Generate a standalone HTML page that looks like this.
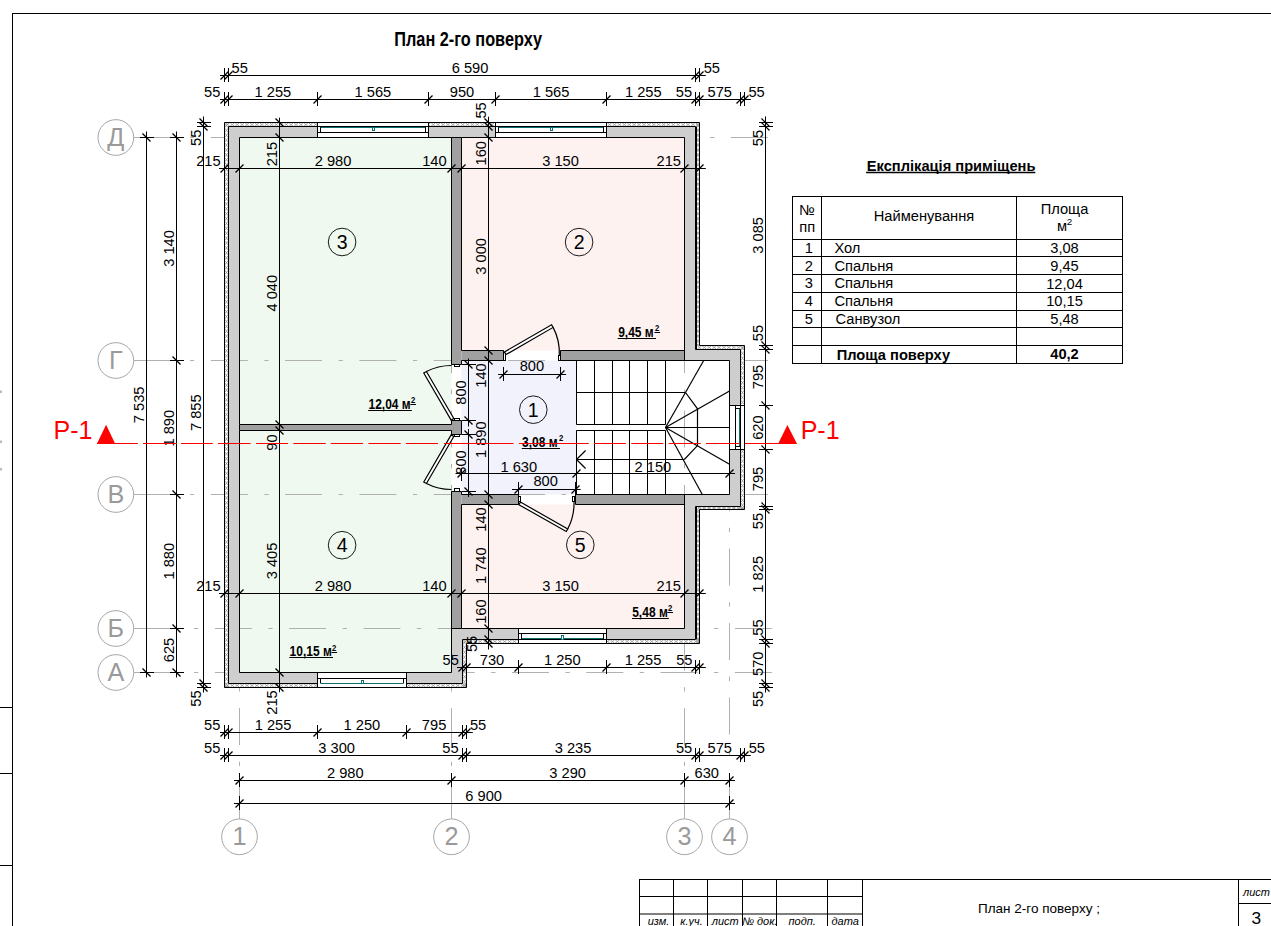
<!DOCTYPE html>
<html><head><meta charset="utf-8"><title>План 2-го поверху</title>
<style>html,body{margin:0;padding:0;background:#fff;overflow:hidden}svg{display:block}text{font-family:"Liberation Sans",sans-serif}</style>
</head><body>
<svg width="1271" height="926" viewBox="0 0 1271 926">
<defs>
<pattern id="ins" width="4.9" height="4.9" patternUnits="userSpaceOnUse"><rect width="4.9" height="4.9" fill="#fff"/><path d="M0 0L4.9 4.9M4.9 0L0 4.9" stroke="#9a9a9a" stroke-width="0.8"/></pattern>
</defs>
<rect width="1271" height="926" fill="#fff"/>
<!-- sheet frame -->
<line x1="12.50" y1="13.00" x2="12.50" y2="926.00" stroke="#000" stroke-width="1" />
<line x1="12.00" y1="13.50" x2="1271.00" y2="13.50" stroke="#000" stroke-width="1" />
<line x1="0.00" y1="707.50" x2="12.50" y2="707.50" stroke="#000" stroke-width="1" />
<line x1="0.00" y1="773.50" x2="12.50" y2="773.50" stroke="#000" stroke-width="1" />
<line x1="0.00" y1="865.50" x2="12.50" y2="865.50" stroke="#000" stroke-width="1" />
<rect x="0" y="390.5" width="2" height="2.5" fill="#b9b9c2"/>
<rect x="0" y="440.5" width="2" height="2.5" fill="#b9b9c2"/>
<rect x="0" y="468" width="2" height="2.5" fill="#b9b9c2"/>
<!-- title block -->
<line x1="639.00" y1="879.50" x2="1271.00" y2="879.50" stroke="#000" stroke-width="1" />
<line x1="639.00" y1="896.50" x2="863.00" y2="896.50" stroke="#000" stroke-width="1" />
<line x1="639.00" y1="914.07" x2="863.00" y2="914.07" stroke="#000" stroke-width="1.05" />
<line x1="639.50" y1="879.00" x2="639.50" y2="926.00" stroke="#000" stroke-width="1" />
<line x1="673.50" y1="879.00" x2="673.50" y2="926.00" stroke="#000" stroke-width="1" />
<line x1="707.50" y1="879.00" x2="707.50" y2="926.00" stroke="#000" stroke-width="1" />
<line x1="742.50" y1="879.00" x2="742.50" y2="926.00" stroke="#000" stroke-width="1" />
<line x1="776.50" y1="879.00" x2="776.50" y2="926.00" stroke="#000" stroke-width="1" />
<line x1="827.50" y1="879.00" x2="827.50" y2="926.00" stroke="#000" stroke-width="1" />
<line x1="862.50" y1="879.00" x2="862.50" y2="926.00" stroke="#000" stroke-width="1" />
<line x1="1238.50" y1="879.00" x2="1238.50" y2="926.00" stroke="#000" stroke-width="1" />
<line x1="1238.50" y1="903.50" x2="1271.00" y2="903.50" stroke="#000" stroke-width="1" />
<text x="658.50" y="925.30" font-size="11" text-anchor="middle" font-style="italic" >изм.</text>
<text x="691.55" y="925.30" font-size="11" text-anchor="middle" font-style="italic" >к.уч.</text>
<text x="725.20" y="925.30" font-size="11" text-anchor="middle" font-style="italic" >лист</text>
<text x="759.70" y="925.30" font-size="11" text-anchor="middle" font-style="italic" >№ док.</text>
<text x="802.25" y="925.30" font-size="11" text-anchor="middle" font-style="italic" >подп.</text>
<text x="845.20" y="925.30" font-size="11" text-anchor="middle" font-style="italic" >дата</text>
<text x="1256.50" y="895.50" font-size="11" text-anchor="middle" font-style="italic" >лист</text>
<text x="1256.30" y="924.00" font-size="17.3" text-anchor="middle" >3</text>
<text x="978.00" y="912.70" font-size="13.5" >План 2-го поверху ;</text>
<text transform="translate(394.3,45.9) scale(0.84,1)" font-size="19.4" font-weight="bold">План 2-го поверху</text>
<!-- building -->
<polygon points="224.5,122.5 699.5,122.5 699.5,345.5 744.5,345.5 744.5,509.5 699.5,509.5 699.5,643.5 466.5,643.5 466.5,687.5 224.5,687.5" fill="#fff" stroke="none" stroke-width="1" />
<polygon points="228.5,126.5 695.5,126.5 695.5,349.5 740.5,349.5 740.5,506.5 695.5,506.5 695.5,639.5 462.5,639.5 462.5,683.5 228.5,683.5" fill="#fff" stroke="none" stroke-width="1" />
<rect x="239.5" y="137.5" width="212.00" height="287.00" fill="#f0f9f0"/>
<rect x="239.5" y="430.5" width="212.00" height="242.00" fill="#f0f9f0"/>
<rect x="461.5" y="137.5" width="223.00" height="213.00" fill="#fef2f0"/>
<rect x="461.5" y="360.5" width="115.00" height="134.00" fill="#f2f2fc"/>
<rect x="461.5" y="504.5" width="223.00" height="124.00" fill="#fef2f0"/>
<!-- axes -->
<path d="M133.8 137.5H182.6M730.9 137.5H767.9M710.1 137.5H714.4M656.6 137.5H693.6M635.8 137.5H640.1M582.3 137.5H619.3M561.5 137.5H565.8M508.0 137.5H545.0M487.2 137.5H491.5M433.7 137.5H470.7M412.9 137.5H417.2M359.4 137.5H396.4M338.6 137.5H342.9M285.1 137.5H322.1M264.3 137.5H268.6M210.8 137.5H247.8M190.0 137.5H194.3" stroke="#a8a8a8" stroke-width="0.9" fill="none"/>
<path d="M133.8 360.5H182.6M730.9 360.5H767.9M710.1 360.5H714.4M656.6 360.5H693.6M635.8 360.5H640.1M582.3 360.5H619.3M561.5 360.5H565.8M508.0 360.5H545.0M487.2 360.5H491.5M433.7 360.5H470.7M412.9 360.5H417.2M359.4 360.5H396.4M338.6 360.5H342.9M285.1 360.5H322.1M264.3 360.5H268.6M210.8 360.5H247.8M190.0 360.5H194.3" stroke="#a8a8a8" stroke-width="0.9" fill="none"/>
<path d="M133.8 494.5H182.6M730.9 494.5H767.9M710.1 494.5H714.4M656.6 494.5H693.6M635.8 494.5H640.1M582.3 494.5H619.3M561.5 494.5H565.8M508.0 494.5H545.0M487.2 494.5H491.5M433.7 494.5H470.7M412.9 494.5H417.2M359.4 494.5H396.4M338.6 494.5H342.9M285.1 494.5H322.1M264.3 494.5H268.6M210.8 494.5H247.8M190.0 494.5H194.3" stroke="#a8a8a8" stroke-width="0.9" fill="none"/>
<path d="M133.8 628.5H182.6M734.9 628.5H771.9M714.1 628.5H718.4M660.6 628.5H697.6M639.8 628.5H644.1M586.3 628.5H623.3M565.5 628.5H569.8M512.0 628.5H549.0M491.2 628.5H495.5M437.7 628.5H474.7M416.9 628.5H421.2M363.4 628.5H400.4M342.6 628.5H346.9M289.1 628.5H326.1M268.3 628.5H272.6M214.8 628.5H251.8M194.0 628.5H198.3" stroke="#a8a8a8" stroke-width="0.9" fill="none"/>
<path d="M133.8 672.5H182.6M734.9 672.5H771.9M714.1 672.5H718.4M660.6 672.5H697.6M639.8 672.5H644.1M586.3 672.5H623.3M565.5 672.5H569.8M512.0 672.5H549.0M491.2 672.5H495.5M437.7 672.5H474.7M416.9 672.5H421.2M363.4 672.5H400.4M342.6 672.5H346.9M289.1 672.5H326.1M268.3 672.5H272.6M214.8 672.5H251.8M194.0 672.5H198.3" stroke="#a8a8a8" stroke-width="0.9" fill="none"/>
<path d="M239.5 777.5V818.9M239.5 688.0V691.6M239.5 708.1V745.1M239.5 761.6V766.0" stroke="#a8a8a8" stroke-width="0.9" fill="none"/>
<path d="M451.5 777.5V818.9M451.5 360.5V373.1M451.5 389.6V394.0M451.5 410.5V447.5M451.5 464.0V468.4M451.5 484.9V521.9M451.5 538.4V542.8M451.5 559.3V596.3M451.5 612.8V617.2M451.5 633.7V670.7M451.5 687.2V691.6M451.5 708.1V745.1M451.5 761.6V766.0" stroke="#a8a8a8" stroke-width="0.9" fill="none"/>
<path d="M684.5 777.5V818.9M684.5 360.5V373.1M684.5 389.6V394.0M684.5 410.5V447.5M684.5 464.0V468.4M684.5 484.9V521.9M684.5 538.4V542.8M684.5 559.3V596.3M684.5 612.8V617.2M684.5 633.7V670.7M684.5 687.2V691.6M684.5 708.1V745.1M684.5 761.6V766.0" stroke="#a8a8a8" stroke-width="0.9" fill="none"/>
<path d="M729.5 773.4V818.9M729.5 510.0V511.3M729.5 527.8V532.2M729.5 548.7V585.7M729.5 602.2V606.6M729.5 623.1V660.1M729.5 676.6V681.0M729.5 697.5V734.5M729.5 751.0V755.4" stroke="#a8a8a8" stroke-width="0.9" fill="none"/>
<path d="M224.5 122.5 L699.5 122.5 L699.5 345.5 L744.5 345.5 L744.5 509.5 L699.5 509.5 L699.5 643.5 L466.5 643.5 L466.5 687.5 L224.5 687.5ZM228.5 126.5 L695.5 126.5 L695.5 349.5 L740.5 349.5 L740.5 506.5 L695.5 506.5 L695.5 639.5 L462.5 639.5 L462.5 683.5 L228.5 683.5Z" fill="#fff" fill-rule="evenodd"/>
<path d="M225.0 126.5L229.9 122.5L234.8 126.5L239.7 122.5L244.6 126.5L249.5 122.5L254.4 126.5L259.3 122.5L264.2 126.5L269.1 122.5L274.0 126.5L278.9 122.5L283.8 126.5L288.7 122.5L293.6 126.5L298.5 122.5L303.4 126.5L308.3 122.5L313.2 126.5L318.1 122.5L323.0 126.5L327.9 122.5L332.8 126.5L337.7 122.5L342.6 126.5L347.5 122.5L352.4 126.5L357.3 122.5L362.2 126.5L367.1 122.5L372.0 126.5L376.9 122.5L381.8 126.5L386.7 122.5L391.6 126.5L396.5 122.5L401.4 126.5L406.3 122.5L411.2 126.5L416.1 122.5L421.0 126.5L425.9 122.5L430.8 126.5L435.7 122.5L440.6 126.5L445.5 122.5L450.4 126.5L455.3 122.5L460.2 126.5L465.1 122.5L470.0 126.5L474.9 122.5L479.8 126.5L484.7 122.5L489.6 126.5L494.5 122.5L499.4 126.5L504.3 122.5L509.2 126.5L514.1 122.5L519.0 126.5L523.9 122.5L528.8 126.5L533.7 122.5L538.6 126.5L543.5 122.5L548.4 126.5L553.3 122.5L558.2 126.5L563.1 122.5L568.0 126.5L572.9 122.5L577.8 126.5L582.7 122.5L587.6 126.5L592.5 122.5L597.4 126.5L602.3 122.5L607.2 126.5L612.1 122.5L617.0 126.5L621.9 122.5L626.8 126.5L631.7 122.5L636.6 126.5L641.5 122.5L646.4 126.5L651.3 122.5L656.2 126.5L661.1 122.5L666.0 126.5L670.9 122.5L675.8 126.5L680.7 122.5L685.6 126.5L690.5 122.5L695.4 126.5L699.0 122.5M225.0 122.5L229.9 126.5L234.8 122.5L239.7 126.5L244.6 122.5L249.5 126.5L254.4 122.5L259.3 126.5L264.2 122.5L269.1 126.5L274.0 122.5L278.9 126.5L283.8 122.5L288.7 126.5L293.6 122.5L298.5 126.5L303.4 122.5L308.3 126.5L313.2 122.5L318.1 126.5L323.0 122.5L327.9 126.5L332.8 122.5L337.7 126.5L342.6 122.5L347.5 126.5L352.4 122.5L357.3 126.5L362.2 122.5L367.1 126.5L372.0 122.5L376.9 126.5L381.8 122.5L386.7 126.5L391.6 122.5L396.5 126.5L401.4 122.5L406.3 126.5L411.2 122.5L416.1 126.5L421.0 122.5L425.9 126.5L430.8 122.5L435.7 126.5L440.6 122.5L445.5 126.5L450.4 122.5L455.3 126.5L460.2 122.5L465.1 126.5L470.0 122.5L474.9 126.5L479.8 122.5L484.7 126.5L489.6 122.5L494.5 126.5L499.4 122.5L504.3 126.5L509.2 122.5L514.1 126.5L519.0 122.5L523.9 126.5L528.8 122.5L533.7 126.5L538.6 122.5L543.5 126.5L548.4 122.5L553.3 126.5L558.2 122.5L563.1 126.5L568.0 122.5L572.9 126.5L577.8 122.5L582.7 126.5L587.6 122.5L592.5 126.5L597.4 122.5L602.3 126.5L607.2 122.5L612.1 126.5L617.0 122.5L621.9 126.5L626.8 122.5L631.7 126.5L636.6 122.5L641.5 126.5L646.4 122.5L651.3 126.5L656.2 122.5L661.1 126.5L666.0 122.5L670.9 126.5L675.8 122.5L680.7 126.5L685.6 122.5L690.5 126.5L695.4 122.5L699.0 126.5M228.5 123.0L224.5 127.9L228.5 132.8L224.5 137.7L228.5 142.6L224.5 147.5L228.5 152.4L224.5 157.3L228.5 162.2L224.5 167.1L228.5 172.0L224.5 176.9L228.5 181.8L224.5 186.7L228.5 191.6L224.5 196.5L228.5 201.4L224.5 206.3L228.5 211.2L224.5 216.1L228.5 221.0L224.5 225.9L228.5 230.8L224.5 235.7L228.5 240.6L224.5 245.5L228.5 250.4L224.5 255.3L228.5 260.2L224.5 265.1L228.5 270.0L224.5 274.9L228.5 279.8L224.5 284.7L228.5 289.6L224.5 294.5L228.5 299.4L224.5 304.3L228.5 309.2L224.5 314.1L228.5 319.0L224.5 323.9L228.5 328.8L224.5 333.7L228.5 338.6L224.5 343.5L228.5 348.4L224.5 353.3L228.5 358.2L224.5 363.1L228.5 368.0L224.5 372.9L228.5 377.8L224.5 382.7L228.5 387.6L224.5 392.5L228.5 397.4L224.5 402.3L228.5 407.2L224.5 412.1L228.5 417.0L224.5 421.9L228.5 426.8L224.5 431.7L228.5 436.6L224.5 441.5L228.5 446.4L224.5 451.3L228.5 456.2L224.5 461.1L228.5 466.0L224.5 470.9L228.5 475.8L224.5 480.7L228.5 485.6L224.5 490.5L228.5 495.4L224.5 500.3L228.5 505.2L224.5 510.1L228.5 515.0L224.5 519.9L228.5 524.8L224.5 529.7L228.5 534.6L224.5 539.5L228.5 544.4L224.5 549.3L228.5 554.2L224.5 559.1L228.5 564.0L224.5 568.9L228.5 573.8L224.5 578.7L228.5 583.6L224.5 588.5L228.5 593.4L224.5 598.3L228.5 603.2L224.5 608.1L228.5 613.0L224.5 617.9L228.5 622.8L224.5 627.7L228.5 632.6L224.5 637.5L228.5 642.4L224.5 647.3L228.5 652.2L224.5 657.1L228.5 662.0L224.5 666.9L228.5 671.8L224.5 676.7L228.5 681.6L224.5 686.5L228.5 687.0M224.5 123.0L228.5 127.9L224.5 132.8L228.5 137.7L224.5 142.6L228.5 147.5L224.5 152.4L228.5 157.3L224.5 162.2L228.5 167.1L224.5 172.0L228.5 176.9L224.5 181.8L228.5 186.7L224.5 191.6L228.5 196.5L224.5 201.4L228.5 206.3L224.5 211.2L228.5 216.1L224.5 221.0L228.5 225.9L224.5 230.8L228.5 235.7L224.5 240.6L228.5 245.5L224.5 250.4L228.5 255.3L224.5 260.2L228.5 265.1L224.5 270.0L228.5 274.9L224.5 279.8L228.5 284.7L224.5 289.6L228.5 294.5L224.5 299.4L228.5 304.3L224.5 309.2L228.5 314.1L224.5 319.0L228.5 323.9L224.5 328.8L228.5 333.7L224.5 338.6L228.5 343.5L224.5 348.4L228.5 353.3L224.5 358.2L228.5 363.1L224.5 368.0L228.5 372.9L224.5 377.8L228.5 382.7L224.5 387.6L228.5 392.5L224.5 397.4L228.5 402.3L224.5 407.2L228.5 412.1L224.5 417.0L228.5 421.9L224.5 426.8L228.5 431.7L224.5 436.6L228.5 441.5L224.5 446.4L228.5 451.3L224.5 456.2L228.5 461.1L224.5 466.0L228.5 470.9L224.5 475.8L228.5 480.7L224.5 485.6L228.5 490.5L224.5 495.4L228.5 500.3L224.5 505.2L228.5 510.1L224.5 515.0L228.5 519.9L224.5 524.8L228.5 529.7L224.5 534.6L228.5 539.5L224.5 544.4L228.5 549.3L224.5 554.2L228.5 559.1L224.5 564.0L228.5 568.9L224.5 573.8L228.5 578.7L224.5 583.6L228.5 588.5L224.5 593.4L228.5 598.3L224.5 603.2L228.5 608.1L224.5 613.0L228.5 617.9L224.5 622.8L228.5 627.7L224.5 632.6L228.5 637.5L224.5 642.4L228.5 647.3L224.5 652.2L228.5 657.1L224.5 662.0L228.5 666.9L224.5 671.8L228.5 676.7L224.5 681.6L228.5 686.5L224.5 687.0M225.0 687.5L229.9 683.5L234.8 687.5L239.7 683.5L244.6 687.5L249.5 683.5L254.4 687.5L259.3 683.5L264.2 687.5L269.1 683.5L274.0 687.5L278.9 683.5L283.8 687.5L288.7 683.5L293.6 687.5L298.5 683.5L303.4 687.5L308.3 683.5L313.2 687.5L318.1 683.5L323.0 687.5L327.9 683.5L332.8 687.5L337.7 683.5L342.6 687.5L347.5 683.5L352.4 687.5L357.3 683.5L362.2 687.5L367.1 683.5L372.0 687.5L376.9 683.5L381.8 687.5L386.7 683.5L391.6 687.5L396.5 683.5L401.4 687.5L406.3 683.5L411.2 687.5L416.1 683.5L421.0 687.5L425.9 683.5L430.8 687.5L435.7 683.5L440.6 687.5L445.5 683.5L450.4 687.5L455.3 683.5L460.2 687.5L465.1 683.5L466.0 687.5M225.0 683.5L229.9 687.5L234.8 683.5L239.7 687.5L244.6 683.5L249.5 687.5L254.4 683.5L259.3 687.5L264.2 683.5L269.1 687.5L274.0 683.5L278.9 687.5L283.8 683.5L288.7 687.5L293.6 683.5L298.5 687.5L303.4 683.5L308.3 687.5L313.2 683.5L318.1 687.5L323.0 683.5L327.9 687.5L332.8 683.5L337.7 687.5L342.6 683.5L347.5 687.5L352.4 683.5L357.3 687.5L362.2 683.5L367.1 687.5L372.0 683.5L376.9 687.5L381.8 683.5L386.7 687.5L391.6 683.5L396.5 687.5L401.4 683.5L406.3 687.5L411.2 683.5L416.1 687.5L421.0 683.5L425.9 687.5L430.8 683.5L435.7 687.5L440.6 683.5L445.5 687.5L450.4 683.5L455.3 687.5L460.2 683.5L465.1 687.5L466.0 683.5M466.5 640.0L462.5 644.9L466.5 649.8L462.5 654.7L466.5 659.6L462.5 664.5L466.5 669.4L462.5 674.3L466.5 679.2L462.5 684.1L466.5 687.0M462.5 640.0L466.5 644.9L462.5 649.8L466.5 654.7L462.5 659.6L466.5 664.5L462.5 669.4L466.5 674.3L462.5 679.2L466.5 684.1L462.5 687.0M463.0 643.5L467.9 639.5L472.8 643.5L477.7 639.5L482.6 643.5L487.5 639.5L492.4 643.5L497.3 639.5L502.2 643.5L507.1 639.5L512.0 643.5L516.9 639.5L521.8 643.5L526.7 639.5L531.6 643.5L536.5 639.5L541.4 643.5L546.3 639.5L551.2 643.5L556.1 639.5L561.0 643.5L565.9 639.5L570.8 643.5L575.7 639.5L580.6 643.5L585.5 639.5L590.4 643.5L595.3 639.5L600.2 643.5L605.1 639.5L610.0 643.5L614.9 639.5L619.8 643.5L624.7 639.5L629.6 643.5L634.5 639.5L639.4 643.5L644.3 639.5L649.2 643.5L654.1 639.5L659.0 643.5L663.9 639.5L668.8 643.5L673.7 639.5L678.6 643.5L683.5 639.5L688.4 643.5L693.3 639.5L698.2 643.5L699.0 639.5M463.0 639.5L467.9 643.5L472.8 639.5L477.7 643.5L482.6 639.5L487.5 643.5L492.4 639.5L497.3 643.5L502.2 639.5L507.1 643.5L512.0 639.5L516.9 643.5L521.8 639.5L526.7 643.5L531.6 639.5L536.5 643.5L541.4 639.5L546.3 643.5L551.2 639.5L556.1 643.5L561.0 639.5L565.9 643.5L570.8 639.5L575.7 643.5L580.6 639.5L585.5 643.5L590.4 639.5L595.3 643.5L600.2 639.5L605.1 643.5L610.0 639.5L614.9 643.5L619.8 639.5L624.7 643.5L629.6 639.5L634.5 643.5L639.4 639.5L644.3 643.5L649.2 639.5L654.1 643.5L659.0 639.5L663.9 643.5L668.8 639.5L673.7 643.5L678.6 639.5L683.5 643.5L688.4 639.5L693.3 643.5L698.2 639.5L699.0 643.5M699.6 123.0L696.4 127.9L699.6 132.8L696.4 137.7L699.6 142.6L696.4 147.5L699.6 152.4L696.4 157.3L699.6 162.2L696.4 167.1L699.6 172.0L696.4 176.9L699.6 181.8L696.4 186.7L699.6 191.6L696.4 196.5L699.6 201.4L696.4 206.3L699.6 211.2L696.4 216.1L699.6 221.0L696.4 225.9L699.6 230.8L696.4 235.7L699.6 240.6L696.4 245.5L699.6 250.4L696.4 255.3L699.6 260.2L696.4 265.1L699.6 270.0L696.4 274.9L699.6 279.8L696.4 284.7L699.6 289.6L696.4 294.5L699.6 299.4L696.4 304.3L699.6 309.2L696.4 314.1L699.6 319.0L696.4 323.9L699.6 328.8L696.4 333.7L699.6 338.6L696.4 343.5L699.6 346.0M696.4 123.0L699.6 127.9L696.4 132.8L699.6 137.7L696.4 142.6L699.6 147.5L696.4 152.4L699.6 157.3L696.4 162.2L699.6 167.1L696.4 172.0L699.6 176.9L696.4 181.8L699.6 186.7L696.4 191.6L699.6 196.5L696.4 201.4L699.6 206.3L696.4 211.2L699.6 216.1L696.4 221.0L699.6 225.9L696.4 230.8L699.6 235.7L696.4 240.6L699.6 245.5L696.4 250.4L699.6 255.3L696.4 260.2L699.6 265.1L696.4 270.0L699.6 274.9L696.4 279.8L699.6 284.7L696.4 289.6L699.6 294.5L696.4 299.4L699.6 304.3L696.4 309.2L699.6 314.1L696.4 319.0L699.6 323.9L696.4 328.8L699.6 333.7L696.4 338.6L699.6 343.5L696.4 346.0M699.6 509.0L696.4 513.9L699.6 518.8L696.4 523.7L699.6 528.6L696.4 533.5L699.6 538.4L696.4 543.3L699.6 548.2L696.4 553.1L699.6 558.0L696.4 562.9L699.6 567.8L696.4 572.7L699.6 577.6L696.4 582.5L699.6 587.4L696.4 592.3L699.6 597.2L696.4 602.1L699.6 607.0L696.4 611.9L699.6 616.8L696.4 621.7L699.6 626.6L696.4 631.5L699.6 636.4L696.4 641.3L699.6 643.0M696.4 509.0L699.6 513.9L696.4 518.8L699.6 523.7L696.4 528.6L699.6 533.5L696.4 538.4L699.6 543.3L696.4 548.2L699.6 553.1L696.4 558.0L699.6 562.9L696.4 567.8L699.6 572.7L696.4 577.6L699.6 582.5L696.4 587.4L699.6 592.3L696.4 597.2L699.6 602.1L696.4 607.0L699.6 611.9L696.4 616.8L699.6 621.7L696.4 626.6L699.6 631.5L696.4 636.4L699.6 641.3L696.4 643.0M697.0 349.5L701.9 345.5L706.8 349.5L711.7 345.5L716.6 349.5L721.5 345.5L726.4 349.5L731.3 345.5L736.2 349.5L741.1 345.5L744.0 349.5M697.0 345.5L701.9 349.5L706.8 345.5L711.7 349.5L716.6 345.5L721.5 349.5L726.4 345.5L731.3 349.5L736.2 345.5L741.1 349.5L744.0 345.5M744.5 346.0L740.5 350.9L744.5 355.8L740.5 360.7L744.5 365.6L740.5 370.5L744.5 375.4L740.5 380.3L744.5 385.2L740.5 390.1L744.5 395.0L740.5 399.9L744.5 404.8L740.5 409.7L744.5 414.6L740.5 419.5L744.5 424.4L740.5 429.3L744.5 434.2L740.5 439.1L744.5 444.0L740.5 448.9L744.5 453.8L740.5 458.7L744.5 463.6L740.5 468.5L744.5 473.4L740.5 478.3L744.5 483.2L740.5 488.1L744.5 493.0L740.5 497.9L744.5 502.8L740.5 507.7L744.5 509.0M740.5 346.0L744.5 350.9L740.5 355.8L744.5 360.7L740.5 365.6L744.5 370.5L740.5 375.4L744.5 380.3L740.5 385.2L744.5 390.1L740.5 395.0L744.5 399.9L740.5 404.8L744.5 409.7L740.5 414.6L744.5 419.5L740.5 424.4L744.5 429.3L740.5 434.2L744.5 439.1L740.5 444.0L744.5 448.9L740.5 453.8L744.5 458.7L740.5 463.6L744.5 468.5L740.5 473.4L744.5 478.3L740.5 483.2L744.5 488.1L740.5 493.0L744.5 497.9L740.5 502.8L744.5 507.7L740.5 509.0M697.0 509.6L701.9 506.4L706.8 509.6L711.7 506.4L716.6 509.6L721.5 506.4L726.4 509.6L731.3 506.4L736.2 509.6L741.1 506.4L744.0 509.6M697.0 506.4L701.9 509.6L706.8 506.4L711.7 509.6L716.6 506.4L721.5 509.6L726.4 506.4L731.3 509.6L736.2 506.4L741.1 509.6L744.0 506.4" fill="none" stroke="#8e8e8e" stroke-width="0.8"/>
<polygon points="224.5,122.5 699.5,122.5 699.5,345.5 744.5,345.5 744.5,509.5 699.5,509.5 699.5,643.5 466.5,643.5 466.5,687.5 224.5,687.5" fill="none" stroke="#000" stroke-width="1" />
<path d="M228.5 126.5 L695.5 126.5 L695.5 349.5 L740.5 349.5 L740.5 506.5 L695.5 506.5 L695.5 639.5 L462.5 639.5 L462.5 683.5 L228.5 683.5ZM239.5 137.5H451.5V672.5H239.5ZM451.5 137.5H684.5V628.5H451.5ZM684.5 360.5H729.5V494.5H684.5Z" fill="#cecece" fill-rule="evenodd" stroke="none"/>
<polygon points="228.5,126.5 695.5,126.5 695.5,349.5 740.5,349.5 740.5,506.5 695.5,506.5 695.5,639.5 462.5,639.5 462.5,683.5 228.5,683.5" fill="none" stroke="#000" stroke-width="1" />
<line x1="696.50" y1="126.50" x2="696.50" y2="349.50" stroke="#000" stroke-width="1" />
<line x1="696.50" y1="506.50" x2="696.50" y2="639.50" stroke="#000" stroke-width="1" />
<rect x="239.5" y="424.5" width="212.00" height="6.00" fill="#a0a0a0"/>
<rect x="451.5" y="137.5" width="10.00" height="227.00" fill="#a0a0a0"/>
<rect x="451.5" y="420.5" width="10.00" height="14.00" fill="#a0a0a0"/>
<rect x="451.5" y="491.5" width="10.00" height="137.00" fill="#a0a0a0"/>
<rect x="461.5" y="350.5" width="42.00" height="10.00" fill="#a0a0a0"/>
<rect x="560.5" y="350.5" width="124.00" height="10.00" fill="#a0a0a0"/>
<rect x="461.5" y="494.5" width="57.00" height="10.00" fill="#a0a0a0"/>
<rect x="575.5" y="494.5" width="109.00" height="10.00" fill="#a0a0a0"/>
<!-- outlines -->
<line x1="239.50" y1="137.50" x2="451.50" y2="137.50" stroke="#000" stroke-width="1" />
<line x1="239.50" y1="137.50" x2="239.50" y2="424.50" stroke="#000" stroke-width="1" />
<line x1="239.50" y1="424.50" x2="451.50" y2="424.50" stroke="#000" stroke-width="1" />
<line x1="451.50" y1="137.50" x2="451.50" y2="364.50" stroke="#000" stroke-width="1" />
<line x1="451.50" y1="420.50" x2="451.50" y2="424.50" stroke="#000" stroke-width="1" />
<line x1="239.50" y1="430.50" x2="451.50" y2="430.50" stroke="#000" stroke-width="1" />
<line x1="239.50" y1="430.50" x2="239.50" y2="672.50" stroke="#000" stroke-width="1" />
<line x1="239.50" y1="672.50" x2="451.50" y2="672.50" stroke="#000" stroke-width="1" />
<line x1="451.50" y1="430.50" x2="451.50" y2="434.50" stroke="#000" stroke-width="1" />
<line x1="451.50" y1="491.50" x2="451.50" y2="672.50" stroke="#000" stroke-width="1" />
<line x1="461.50" y1="137.50" x2="684.50" y2="137.50" stroke="#000" stroke-width="1" />
<line x1="461.50" y1="137.50" x2="461.50" y2="350.50" stroke="#000" stroke-width="1" />
<line x1="684.50" y1="137.50" x2="684.50" y2="360.50" stroke="#000" stroke-width="1" />
<line x1="461.50" y1="350.50" x2="503.50" y2="350.50" stroke="#000" stroke-width="1" />
<line x1="560.50" y1="350.50" x2="684.50" y2="350.50" stroke="#000" stroke-width="1" />
<line x1="461.50" y1="360.50" x2="503.50" y2="360.50" stroke="#000" stroke-width="1" />
<line x1="560.50" y1="360.50" x2="729.50" y2="360.50" stroke="#000" stroke-width="1" />
<line x1="461.50" y1="494.50" x2="518.50" y2="494.50" stroke="#000" stroke-width="1" />
<line x1="575.50" y1="494.50" x2="729.50" y2="494.50" stroke="#000" stroke-width="1" />
<line x1="729.50" y1="360.50" x2="729.50" y2="494.50" stroke="#000" stroke-width="1" />
<line x1="461.50" y1="360.50" x2="461.50" y2="364.50" stroke="#000" stroke-width="1" />
<line x1="461.50" y1="420.50" x2="461.50" y2="434.50" stroke="#000" stroke-width="1" />
<line x1="461.50" y1="491.50" x2="461.50" y2="494.50" stroke="#000" stroke-width="1" />
<line x1="461.50" y1="504.50" x2="518.50" y2="504.50" stroke="#000" stroke-width="1" />
<line x1="575.50" y1="504.50" x2="684.50" y2="504.50" stroke="#000" stroke-width="1" />
<line x1="461.50" y1="504.50" x2="461.50" y2="628.50" stroke="#000" stroke-width="1" />
<line x1="684.50" y1="494.50" x2="684.50" y2="628.50" stroke="#000" stroke-width="1" />
<line x1="461.50" y1="628.50" x2="684.50" y2="628.50" stroke="#000" stroke-width="1" />
<line x1="503.50" y1="350.50" x2="503.50" y2="360.50" stroke="#000" stroke-width="1" />
<line x1="560.50" y1="350.50" x2="560.50" y2="360.50" stroke="#000" stroke-width="1" />
<line x1="518.50" y1="494.50" x2="518.50" y2="504.50" stroke="#000" stroke-width="1" />
<line x1="575.50" y1="494.50" x2="575.50" y2="504.50" stroke="#000" stroke-width="1" />
<line x1="451.50" y1="364.50" x2="461.50" y2="364.50" stroke="#000" stroke-width="1" />
<line x1="451.50" y1="420.50" x2="461.50" y2="420.50" stroke="#000" stroke-width="1" />
<line x1="451.50" y1="434.50" x2="461.50" y2="434.50" stroke="#000" stroke-width="1" />
<line x1="451.50" y1="491.50" x2="461.50" y2="491.50" stroke="#000" stroke-width="1" />
<line x1="451.50" y1="137.50" x2="461.50" y2="137.50" stroke="#000" stroke-width="1" />
<line x1="451.50" y1="628.50" x2="461.50" y2="628.50" stroke="#000" stroke-width="1" />
<line x1="239.50" y1="424.50" x2="239.50" y2="430.50" stroke="#000" stroke-width="1" />
<!-- windows -->
<rect x="317.5" y="122.5" width="111.0" height="15.0" fill="#fff" stroke="#000" stroke-width="1"/>
<line x1="317.50" y1="126.50" x2="428.50" y2="126.50" stroke="#000" stroke-width="1" />
<line x1="317.50" y1="132.50" x2="428.50" y2="132.50" stroke="#000" stroke-width="1" />
<line x1="320.50" y1="126.50" x2="320.50" y2="132.50" stroke="#000" stroke-width="1" />
<line x1="425.50" y1="126.50" x2="425.50" y2="132.50" stroke="#000" stroke-width="1" />
<line x1="321.00" y1="127.50" x2="425.00" y2="127.50" stroke="#0b7070" stroke-width="1" />
<rect x="372.5" y="127.5" width="2" height="3" fill="#fff" stroke="#0b7070" stroke-width="1"/>
<rect x="495.5" y="122.5" width="111.0" height="15.0" fill="#fff" stroke="#000" stroke-width="1"/>
<line x1="495.50" y1="126.50" x2="606.50" y2="126.50" stroke="#000" stroke-width="1" />
<line x1="495.50" y1="132.50" x2="606.50" y2="132.50" stroke="#000" stroke-width="1" />
<line x1="498.50" y1="126.50" x2="498.50" y2="132.50" stroke="#000" stroke-width="1" />
<line x1="603.50" y1="126.50" x2="603.50" y2="132.50" stroke="#000" stroke-width="1" />
<line x1="499.00" y1="127.50" x2="603.00" y2="127.50" stroke="#0b7070" stroke-width="1" />
<rect x="550.5" y="127.5" width="2" height="3" fill="#fff" stroke="#0b7070" stroke-width="1"/>
<rect x="317.5" y="672.5" width="89.0" height="15.0" fill="#fff" stroke="#000" stroke-width="1"/>
<line x1="317.50" y1="678.50" x2="406.50" y2="678.50" stroke="#000" stroke-width="1" />
<line x1="320.50" y1="678.50" x2="320.50" y2="683.50" stroke="#000" stroke-width="1" />
<line x1="403.50" y1="678.50" x2="403.50" y2="683.50" stroke="#000" stroke-width="1" />
<line x1="321.00" y1="683.50" x2="403.00" y2="683.50" stroke="#0b7070" stroke-width="1" />
<rect x="361.5" y="680.5" width="2" height="3" fill="#fff" stroke="#0b7070" stroke-width="1"/>
<rect x="518.5" y="628.5" width="88.0" height="15.0" fill="#fff" stroke="#000" stroke-width="1"/>
<line x1="518.50" y1="639.50" x2="606.50" y2="639.50" stroke="#000" stroke-width="1" />
<line x1="518.50" y1="633.50" x2="606.50" y2="633.50" stroke="#000" stroke-width="1" />
<line x1="521.50" y1="633.50" x2="521.50" y2="639.50" stroke="#000" stroke-width="1" />
<line x1="603.50" y1="633.50" x2="603.50" y2="639.50" stroke="#000" stroke-width="1" />
<line x1="522.00" y1="638.50" x2="603.00" y2="638.50" stroke="#0b7070" stroke-width="1" />
<rect x="561.5" y="635.5" width="2" height="4" fill="#fff" stroke="#0b7070" stroke-width="1"/>
<rect x="729.5" y="405.5" width="15" height="44.0" fill="#fff" stroke="#000" stroke-width="1"/>
<line x1="740.50" y1="405.50" x2="740.50" y2="449.50" stroke="#000" stroke-width="1" />
<line x1="735.50" y1="405.50" x2="735.50" y2="449.50" stroke="#000" stroke-width="1" />
<line x1="735.50" y1="408.50" x2="740.50" y2="408.50" stroke="#000" stroke-width="1" />
<line x1="735.50" y1="446.50" x2="740.50" y2="446.50" stroke="#000" stroke-width="1" />
<line x1="739.50" y1="409.00" x2="739.50" y2="446.00" stroke="#0b7070" stroke-width="1" />
<!-- doors -->
<rect x="503.50" y="352.50" width="2.00" height="8.00" fill="#fff" stroke="#000" stroke-width="1"/>
<rect x="558.50" y="355.50" width="2.00" height="5.00" fill="#fff" stroke="#000" stroke-width="1"/>
<polygon points="506.00,354.60 553.11,327.40 551.56,324.72 504.45,351.92" fill="#fff" stroke="#000" stroke-width="1.2"/>
<path d="M553.11 327.40A54.50 54.50 0 0 1 559.30 355.00" fill="none" stroke="#000" stroke-width="1.2"/>
<rect x="518.50" y="496.50" width="2.00" height="5.00" fill="#fff" stroke="#000" stroke-width="1"/>
<rect x="572.50" y="496.50" width="2.00" height="5.00" fill="#fff" stroke="#000" stroke-width="1"/>
<polygon points="520.40,502.10 567.75,528.89 566.27,531.50 518.92,504.71" fill="#fff" stroke="#000" stroke-width="1.2"/>
<path d="M567.75 528.89A54.50 54.50 0 0 0 574.00 502.00" fill="none" stroke="#000" stroke-width="1.2"/>
<rect x="454.50" y="364.50" width="5.00" height="2.00" fill="#fff" stroke="#000" stroke-width="1"/>
<rect x="454.50" y="418.50" width="5.00" height="2.00" fill="#fff" stroke="#000" stroke-width="1"/>
<polygon points="453.80,418.50 426.44,371.48 423.76,373.04 451.12,420.06" fill="#fff" stroke="#000" stroke-width="1.2"/>
<path d="M426.44 371.48A54.50 54.50 0 0 1 451.50 365.50" fill="none" stroke="#000" stroke-width="1.2"/>
<rect x="454.50" y="434.50" width="5.00" height="2.00" fill="#fff" stroke="#000" stroke-width="1"/>
<rect x="454.50" y="488.50" width="5.00" height="3.00" fill="#fff" stroke="#000" stroke-width="1"/>
<polygon points="453.80,436.50 426.44,483.52 423.76,481.96 451.12,434.94" fill="#fff" stroke="#000" stroke-width="1.2"/>
<path d="M426.44 483.52A54.50 54.50 0 0 0 451.50 489.50" fill="none" stroke="#000" stroke-width="1.2"/>
<!-- stairs -->
<line x1="576.50" y1="360.50" x2="576.50" y2="424.50" stroke="#000" stroke-width="1" />
<line x1="576.50" y1="430.50" x2="576.50" y2="494.50" stroke="#000" stroke-width="1" />
<line x1="594.50" y1="360.50" x2="594.50" y2="424.50" stroke="#000" stroke-width="1" />
<line x1="594.50" y1="430.50" x2="594.50" y2="494.50" stroke="#000" stroke-width="1" />
<line x1="612.50" y1="360.50" x2="612.50" y2="424.50" stroke="#000" stroke-width="1" />
<line x1="612.50" y1="430.50" x2="612.50" y2="494.50" stroke="#000" stroke-width="1" />
<line x1="629.50" y1="360.50" x2="629.50" y2="424.50" stroke="#000" stroke-width="1" />
<line x1="629.50" y1="430.50" x2="629.50" y2="494.50" stroke="#000" stroke-width="1" />
<line x1="647.50" y1="360.50" x2="647.50" y2="424.50" stroke="#000" stroke-width="1" />
<line x1="647.50" y1="430.50" x2="647.50" y2="494.50" stroke="#000" stroke-width="1" />
<line x1="665.50" y1="360.50" x2="665.50" y2="424.50" stroke="#000" stroke-width="1" />
<line x1="665.50" y1="430.50" x2="665.50" y2="494.50" stroke="#000" stroke-width="1" />
<line x1="576.40" y1="424.50" x2="665.60" y2="424.50" stroke="#000" stroke-width="1" />
<line x1="576.40" y1="430.50" x2="665.60" y2="430.50" stroke="#000" stroke-width="1" />
<line x1="576.40" y1="392.50" x2="685.50" y2="392.50" stroke="#000" stroke-width="1" />
<line x1="576.40" y1="459.50" x2="684.30" y2="459.50" stroke="#000" stroke-width="1" />
<line x1="665.50" y1="427.50" x2="703.70" y2="360.50" stroke="#000" stroke-width="1.2" />
<line x1="665.50" y1="427.50" x2="729.50" y2="390.90" stroke="#000" stroke-width="1.2" />
<line x1="665.50" y1="427.50" x2="729.50" y2="464.20" stroke="#000" stroke-width="1.2" />
<line x1="665.50" y1="427.50" x2="702.30" y2="494.50" stroke="#000" stroke-width="1.2" />
<line x1="665.50" y1="427.50" x2="729.50" y2="427.50" stroke="#000" stroke-width="1" />
<polyline points="685.5,392.5 697.5,408.8 697.5,445.6 684.3,459.5" fill="none" stroke="#000" stroke-width="1.2"/>
<line x1="576.50" y1="459.50" x2="585.60" y2="450.50" stroke="#000" stroke-width="1.2" />
<line x1="576.50" y1="459.50" x2="585.60" y2="468.50" stroke="#000" stroke-width="1.2" />
<!-- dimensions -->
<line x1="220.00" y1="75.50" x2="705.80" y2="75.50" stroke="#000" stroke-width="1" />
<line x1="224.50" y1="68.00" x2="224.50" y2="82.00" stroke="#000" stroke-width="1" />
<line x1="220.50" y1="79.50" x2="228.50" y2="71.50" stroke="#000" stroke-width="1.2" />
<line x1="228.50" y1="68.00" x2="228.50" y2="82.00" stroke="#000" stroke-width="1" />
<line x1="224.50" y1="79.50" x2="232.50" y2="71.50" stroke="#000" stroke-width="1.2" />
<line x1="695.50" y1="68.00" x2="695.50" y2="82.00" stroke="#000" stroke-width="1" />
<line x1="691.50" y1="79.50" x2="699.50" y2="71.50" stroke="#000" stroke-width="1.2" />
<line x1="699.50" y1="68.00" x2="699.50" y2="82.00" stroke="#000" stroke-width="1" />
<line x1="695.50" y1="79.50" x2="703.50" y2="71.50" stroke="#000" stroke-width="1.2" />
<text x="231.60" y="73.00" font-size="14.67" >55</text>
<text x="470.00" y="73.00" font-size="14.67" text-anchor="middle" >6 590</text>
<text x="703.70" y="73.00" font-size="14.67" >55</text>
<line x1="220.00" y1="99.50" x2="750.80" y2="99.50" stroke="#000" stroke-width="1" />
<line x1="224.50" y1="92.00" x2="224.50" y2="106.00" stroke="#000" stroke-width="1" />
<line x1="220.50" y1="103.50" x2="228.50" y2="95.50" stroke="#000" stroke-width="1.2" />
<line x1="228.50" y1="92.00" x2="228.50" y2="106.00" stroke="#000" stroke-width="1" />
<line x1="224.50" y1="103.50" x2="232.50" y2="95.50" stroke="#000" stroke-width="1.2" />
<line x1="317.50" y1="92.00" x2="317.50" y2="106.00" stroke="#000" stroke-width="1" />
<line x1="313.50" y1="103.50" x2="321.50" y2="95.50" stroke="#000" stroke-width="1.2" />
<line x1="428.50" y1="92.00" x2="428.50" y2="106.00" stroke="#000" stroke-width="1" />
<line x1="424.50" y1="103.50" x2="432.50" y2="95.50" stroke="#000" stroke-width="1.2" />
<line x1="495.50" y1="92.00" x2="495.50" y2="106.00" stroke="#000" stroke-width="1" />
<line x1="491.50" y1="103.50" x2="499.50" y2="95.50" stroke="#000" stroke-width="1.2" />
<line x1="606.50" y1="92.00" x2="606.50" y2="106.00" stroke="#000" stroke-width="1" />
<line x1="602.50" y1="103.50" x2="610.50" y2="95.50" stroke="#000" stroke-width="1.2" />
<line x1="695.50" y1="92.00" x2="695.50" y2="106.00" stroke="#000" stroke-width="1" />
<line x1="691.50" y1="103.50" x2="699.50" y2="95.50" stroke="#000" stroke-width="1.2" />
<line x1="699.50" y1="92.00" x2="699.50" y2="106.00" stroke="#000" stroke-width="1" />
<line x1="695.50" y1="103.50" x2="703.50" y2="95.50" stroke="#000" stroke-width="1.2" />
<line x1="740.50" y1="92.00" x2="740.50" y2="106.00" stroke="#000" stroke-width="1" />
<line x1="736.50" y1="103.50" x2="744.50" y2="95.50" stroke="#000" stroke-width="1.2" />
<line x1="744.50" y1="92.00" x2="744.50" y2="106.00" stroke="#000" stroke-width="1" />
<line x1="740.50" y1="103.50" x2="748.50" y2="95.50" stroke="#000" stroke-width="1.2" />
<text x="220.30" y="96.90" font-size="14.67" text-anchor="end" >55</text>
<text x="272.90" y="96.90" font-size="14.67" text-anchor="middle" >1 255</text>
<text x="372.90" y="96.90" font-size="14.67" text-anchor="middle" >1 565</text>
<text x="462.00" y="96.90" font-size="14.67" text-anchor="middle" >950</text>
<text x="551.00" y="96.90" font-size="14.67" text-anchor="middle" >1 565</text>
<text x="643.30" y="96.90" font-size="14.67" text-anchor="middle" >1 255</text>
<text x="683.90" y="96.90" font-size="14.67" text-anchor="middle" >55</text>
<text x="719.80" y="96.90" font-size="14.67" text-anchor="middle" >575</text>
<text x="748.40" y="96.90" font-size="14.67" >55</text>
<line x1="219.00" y1="168.50" x2="705.80" y2="168.50" stroke="#000" stroke-width="1" />
<line x1="224.50" y1="161.00" x2="224.50" y2="175.00" stroke="#000" stroke-width="1" />
<line x1="220.50" y1="172.50" x2="228.50" y2="164.50" stroke="#000" stroke-width="1.2" />
<line x1="239.50" y1="161.00" x2="239.50" y2="175.00" stroke="#000" stroke-width="1" />
<line x1="235.50" y1="172.50" x2="243.50" y2="164.50" stroke="#000" stroke-width="1.2" />
<line x1="451.50" y1="161.00" x2="451.50" y2="175.00" stroke="#000" stroke-width="1" />
<line x1="447.50" y1="172.50" x2="455.50" y2="164.50" stroke="#000" stroke-width="1.2" />
<line x1="461.50" y1="161.00" x2="461.50" y2="175.00" stroke="#000" stroke-width="1" />
<line x1="457.50" y1="172.50" x2="465.50" y2="164.50" stroke="#000" stroke-width="1.2" />
<line x1="684.50" y1="161.00" x2="684.50" y2="175.00" stroke="#000" stroke-width="1" />
<line x1="680.50" y1="172.50" x2="688.50" y2="164.50" stroke="#000" stroke-width="1.2" />
<line x1="699.50" y1="161.00" x2="699.50" y2="175.00" stroke="#000" stroke-width="1" />
<line x1="695.50" y1="172.50" x2="703.50" y2="164.50" stroke="#000" stroke-width="1.2" />
<text x="220.60" y="166.40" font-size="14.67" text-anchor="end" >215</text>
<text x="333.00" y="166.40" font-size="14.67" text-anchor="middle" >2 980</text>
<text x="446.60" y="166.40" font-size="14.67" text-anchor="end" >140</text>
<text x="560.50" y="166.40" font-size="14.67" text-anchor="middle" >3 150</text>
<text x="668.80" y="166.40" font-size="14.67" text-anchor="middle" >215</text>
<line x1="219.00" y1="593.50" x2="705.80" y2="593.50" stroke="#000" stroke-width="1" />
<line x1="224.50" y1="586.00" x2="224.50" y2="600.00" stroke="#000" stroke-width="1" />
<line x1="220.50" y1="597.50" x2="228.50" y2="589.50" stroke="#000" stroke-width="1.2" />
<line x1="239.50" y1="586.00" x2="239.50" y2="600.00" stroke="#000" stroke-width="1" />
<line x1="235.50" y1="597.50" x2="243.50" y2="589.50" stroke="#000" stroke-width="1.2" />
<line x1="451.50" y1="586.00" x2="451.50" y2="600.00" stroke="#000" stroke-width="1" />
<line x1="447.50" y1="597.50" x2="455.50" y2="589.50" stroke="#000" stroke-width="1.2" />
<line x1="461.50" y1="586.00" x2="461.50" y2="600.00" stroke="#000" stroke-width="1" />
<line x1="457.50" y1="597.50" x2="465.50" y2="589.50" stroke="#000" stroke-width="1.2" />
<line x1="684.50" y1="586.00" x2="684.50" y2="600.00" stroke="#000" stroke-width="1" />
<line x1="680.50" y1="597.50" x2="688.50" y2="589.50" stroke="#000" stroke-width="1.2" />
<line x1="699.50" y1="586.00" x2="699.50" y2="600.00" stroke="#000" stroke-width="1" />
<line x1="695.50" y1="597.50" x2="703.50" y2="589.50" stroke="#000" stroke-width="1.2" />
<text x="220.60" y="591.40" font-size="14.67" text-anchor="end" >215</text>
<text x="333.00" y="591.40" font-size="14.67" text-anchor="middle" >2 980</text>
<text x="446.60" y="591.40" font-size="14.67" text-anchor="end" >140</text>
<text x="560.50" y="591.40" font-size="14.67" text-anchor="middle" >3 150</text>
<text x="668.80" y="591.40" font-size="14.67" text-anchor="middle" >215</text>
<line x1="455.50" y1="473.50" x2="735.00" y2="473.50" stroke="#000" stroke-width="1" />
<line x1="461.50" y1="469.00" x2="461.50" y2="481.00" stroke="#000" stroke-width="1" />
<line x1="457.50" y1="477.50" x2="465.50" y2="469.50" stroke="#000" stroke-width="1.2" />
<line x1="572.50" y1="477.50" x2="580.50" y2="469.50" stroke="#000" stroke-width="1.2" />
<line x1="725.50" y1="477.50" x2="733.50" y2="469.50" stroke="#000" stroke-width="1.2" />
<text x="518.80" y="471.50" font-size="14.67" text-anchor="middle" >1 630</text>
<text x="652.90" y="471.60" font-size="14.67" text-anchor="middle" >2 150</text>
<line x1="498.10" y1="374.50" x2="566.10" y2="374.50" stroke="#000" stroke-width="1" />
<line x1="503.50" y1="367.00" x2="503.50" y2="381.00" stroke="#000" stroke-width="1" />
<line x1="499.50" y1="378.50" x2="507.50" y2="370.50" stroke="#000" stroke-width="1.2" />
<line x1="560.50" y1="367.00" x2="560.50" y2="381.00" stroke="#000" stroke-width="1" />
<line x1="556.50" y1="378.50" x2="564.50" y2="370.50" stroke="#000" stroke-width="1.2" />
<text x="531.90" y="371.40" font-size="14.67" text-anchor="middle" >800</text>
<line x1="512.00" y1="489.50" x2="580.70" y2="489.50" stroke="#000" stroke-width="1" />
<line x1="518.50" y1="482.00" x2="518.50" y2="496.00" stroke="#000" stroke-width="1" />
<line x1="514.50" y1="493.50" x2="522.50" y2="485.50" stroke="#000" stroke-width="1.2" />
<line x1="575.50" y1="482.00" x2="575.50" y2="496.00" stroke="#000" stroke-width="1" />
<line x1="571.50" y1="493.50" x2="579.50" y2="485.50" stroke="#000" stroke-width="1.2" />
<text x="545.70" y="486.40" font-size="14.67" text-anchor="middle" >800</text>
<line x1="457.00" y1="667.50" x2="705.80" y2="667.50" stroke="#000" stroke-width="1" />
<line x1="462.50" y1="660.00" x2="462.50" y2="674.00" stroke="#000" stroke-width="1" />
<line x1="458.50" y1="671.50" x2="466.50" y2="663.50" stroke="#000" stroke-width="1.2" />
<line x1="466.50" y1="660.00" x2="466.50" y2="674.00" stroke="#000" stroke-width="1" />
<line x1="462.50" y1="671.50" x2="470.50" y2="663.50" stroke="#000" stroke-width="1.2" />
<line x1="518.50" y1="660.00" x2="518.50" y2="674.00" stroke="#000" stroke-width="1" />
<line x1="514.50" y1="671.50" x2="522.50" y2="663.50" stroke="#000" stroke-width="1.2" />
<line x1="606.50" y1="660.00" x2="606.50" y2="674.00" stroke="#000" stroke-width="1" />
<line x1="602.50" y1="671.50" x2="610.50" y2="663.50" stroke="#000" stroke-width="1.2" />
<line x1="695.50" y1="660.00" x2="695.50" y2="674.00" stroke="#000" stroke-width="1" />
<line x1="691.50" y1="671.50" x2="699.50" y2="663.50" stroke="#000" stroke-width="1.2" />
<line x1="699.50" y1="660.00" x2="699.50" y2="674.00" stroke="#000" stroke-width="1" />
<line x1="695.50" y1="671.50" x2="703.50" y2="663.50" stroke="#000" stroke-width="1.2" />
<text x="458.90" y="664.90" font-size="14.67" text-anchor="end" >55</text>
<text x="492.00" y="664.90" font-size="14.67" text-anchor="middle" >730</text>
<text x="562.30" y="664.90" font-size="14.67" text-anchor="middle" >1 250</text>
<text x="643.00" y="664.90" font-size="14.67" text-anchor="middle" >1 255</text>
<text x="684.30" y="664.90" font-size="14.67" text-anchor="middle" >55</text>
<line x1="220.00" y1="732.50" x2="472.80" y2="732.50" stroke="#000" stroke-width="1" />
<line x1="224.50" y1="725.00" x2="224.50" y2="739.00" stroke="#000" stroke-width="1" />
<line x1="220.50" y1="736.50" x2="228.50" y2="728.50" stroke="#000" stroke-width="1.2" />
<line x1="228.50" y1="725.00" x2="228.50" y2="739.00" stroke="#000" stroke-width="1" />
<line x1="224.50" y1="736.50" x2="232.50" y2="728.50" stroke="#000" stroke-width="1.2" />
<line x1="317.50" y1="725.00" x2="317.50" y2="739.00" stroke="#000" stroke-width="1" />
<line x1="313.50" y1="736.50" x2="321.50" y2="728.50" stroke="#000" stroke-width="1.2" />
<line x1="406.50" y1="725.00" x2="406.50" y2="739.00" stroke="#000" stroke-width="1" />
<line x1="402.50" y1="736.50" x2="410.50" y2="728.50" stroke="#000" stroke-width="1.2" />
<line x1="462.50" y1="725.00" x2="462.50" y2="739.00" stroke="#000" stroke-width="1" />
<line x1="458.50" y1="736.50" x2="466.50" y2="728.50" stroke="#000" stroke-width="1.2" />
<line x1="466.50" y1="725.00" x2="466.50" y2="739.00" stroke="#000" stroke-width="1" />
<line x1="462.50" y1="736.50" x2="470.50" y2="728.50" stroke="#000" stroke-width="1.2" />
<text x="220.40" y="730.30" font-size="14.67" text-anchor="end" >55</text>
<text x="273.00" y="730.30" font-size="14.67" text-anchor="middle" >1 255</text>
<text x="361.90" y="730.30" font-size="14.67" text-anchor="middle" >1 250</text>
<text x="434.10" y="730.30" font-size="14.67" text-anchor="middle" >795</text>
<text x="469.90" y="730.30" font-size="14.67" >55</text>
<line x1="220.00" y1="755.50" x2="750.80" y2="755.50" stroke="#000" stroke-width="1" />
<line x1="224.50" y1="748.00" x2="224.50" y2="762.00" stroke="#000" stroke-width="1" />
<line x1="220.50" y1="759.50" x2="228.50" y2="751.50" stroke="#000" stroke-width="1.2" />
<line x1="228.50" y1="748.00" x2="228.50" y2="762.00" stroke="#000" stroke-width="1" />
<line x1="224.50" y1="759.50" x2="232.50" y2="751.50" stroke="#000" stroke-width="1.2" />
<line x1="462.50" y1="748.00" x2="462.50" y2="762.00" stroke="#000" stroke-width="1" />
<line x1="458.50" y1="759.50" x2="466.50" y2="751.50" stroke="#000" stroke-width="1.2" />
<line x1="466.50" y1="748.00" x2="466.50" y2="762.00" stroke="#000" stroke-width="1" />
<line x1="462.50" y1="759.50" x2="470.50" y2="751.50" stroke="#000" stroke-width="1.2" />
<line x1="695.50" y1="748.00" x2="695.50" y2="762.00" stroke="#000" stroke-width="1" />
<line x1="691.50" y1="759.50" x2="699.50" y2="751.50" stroke="#000" stroke-width="1.2" />
<line x1="699.50" y1="748.00" x2="699.50" y2="762.00" stroke="#000" stroke-width="1" />
<line x1="695.50" y1="759.50" x2="703.50" y2="751.50" stroke="#000" stroke-width="1.2" />
<line x1="740.50" y1="748.00" x2="740.50" y2="762.00" stroke="#000" stroke-width="1" />
<line x1="736.50" y1="759.50" x2="744.50" y2="751.50" stroke="#000" stroke-width="1.2" />
<line x1="744.50" y1="748.00" x2="744.50" y2="762.00" stroke="#000" stroke-width="1" />
<line x1="740.50" y1="759.50" x2="748.50" y2="751.50" stroke="#000" stroke-width="1.2" />
<text x="220.40" y="752.70" font-size="14.67" text-anchor="end" >55</text>
<text x="336.70" y="752.70" font-size="14.67" text-anchor="middle" >3 300</text>
<text x="450.50" y="752.70" font-size="14.67" text-anchor="middle" >55</text>
<text x="573.10" y="752.70" font-size="14.67" text-anchor="middle" >3 235</text>
<text x="684.10" y="752.70" font-size="14.67" text-anchor="middle" >55</text>
<text x="719.80" y="752.70" font-size="14.67" text-anchor="middle" >575</text>
<text x="748.70" y="752.70" font-size="14.67" >55</text>
<line x1="234.00" y1="780.50" x2="735.00" y2="780.50" stroke="#000" stroke-width="1" />
<line x1="239.50" y1="773.00" x2="239.50" y2="787.00" stroke="#000" stroke-width="1" />
<line x1="235.50" y1="784.50" x2="243.50" y2="776.50" stroke="#000" stroke-width="1.2" />
<line x1="451.50" y1="773.00" x2="451.50" y2="787.00" stroke="#000" stroke-width="1" />
<line x1="447.50" y1="784.50" x2="455.50" y2="776.50" stroke="#000" stroke-width="1.2" />
<line x1="684.50" y1="773.00" x2="684.50" y2="787.00" stroke="#000" stroke-width="1" />
<line x1="680.50" y1="784.50" x2="688.50" y2="776.50" stroke="#000" stroke-width="1.2" />
<line x1="729.50" y1="773.00" x2="729.50" y2="787.00" stroke="#000" stroke-width="1" />
<line x1="725.50" y1="784.50" x2="733.50" y2="776.50" stroke="#000" stroke-width="1.2" />
<text x="345.30" y="778.20" font-size="14.67" text-anchor="middle" >2 980</text>
<text x="567.70" y="778.20" font-size="14.67" text-anchor="middle" >3 290</text>
<text x="706.80" y="778.20" font-size="14.67" text-anchor="middle" >630</text>
<line x1="234.00" y1="803.50" x2="735.00" y2="803.50" stroke="#000" stroke-width="1" />
<line x1="239.50" y1="796.00" x2="239.50" y2="810.00" stroke="#000" stroke-width="1" />
<line x1="235.50" y1="807.50" x2="243.50" y2="799.50" stroke="#000" stroke-width="1.2" />
<line x1="729.50" y1="796.00" x2="729.50" y2="810.00" stroke="#000" stroke-width="1" />
<line x1="725.50" y1="807.50" x2="733.50" y2="799.50" stroke="#000" stroke-width="1.2" />
<text x="483.70" y="801.30" font-size="14.67" text-anchor="middle" >6 900</text>
<line x1="146.50" y1="131.50" x2="146.50" y2="677.50" stroke="#000" stroke-width="1" />
<line x1="140.00" y1="137.50" x2="154.00" y2="137.50" stroke="#000" stroke-width="1" />
<line x1="142.50" y1="133.50" x2="150.50" y2="141.50" stroke="#000" stroke-width="1.2" />
<line x1="140.00" y1="672.50" x2="154.00" y2="672.50" stroke="#000" stroke-width="1" />
<line x1="142.50" y1="668.50" x2="150.50" y2="676.50" stroke="#000" stroke-width="1.2" />
<text transform="translate(144.30,404.90) rotate(-90)" font-size="14.67" text-anchor="middle">7 535</text>
<line x1="176.50" y1="131.50" x2="176.50" y2="677.50" stroke="#000" stroke-width="1" />
<line x1="170.00" y1="137.50" x2="184.00" y2="137.50" stroke="#000" stroke-width="1" />
<line x1="172.50" y1="133.50" x2="180.50" y2="141.50" stroke="#000" stroke-width="1.2" />
<line x1="170.00" y1="360.50" x2="184.00" y2="360.50" stroke="#000" stroke-width="1" />
<line x1="172.50" y1="356.50" x2="180.50" y2="364.50" stroke="#000" stroke-width="1.2" />
<line x1="170.00" y1="494.50" x2="184.00" y2="494.50" stroke="#000" stroke-width="1" />
<line x1="172.50" y1="490.50" x2="180.50" y2="498.50" stroke="#000" stroke-width="1.2" />
<line x1="170.00" y1="628.50" x2="184.00" y2="628.50" stroke="#000" stroke-width="1" />
<line x1="172.50" y1="624.50" x2="180.50" y2="632.50" stroke="#000" stroke-width="1.2" />
<line x1="170.00" y1="672.50" x2="184.00" y2="672.50" stroke="#000" stroke-width="1" />
<line x1="172.50" y1="668.50" x2="180.50" y2="676.50" stroke="#000" stroke-width="1.2" />
<text transform="translate(174.40,248.50) rotate(-90)" font-size="14.67" text-anchor="middle">3 140</text>
<text transform="translate(174.40,428.20) rotate(-90)" font-size="14.67" text-anchor="middle">1 890</text>
<text transform="translate(174.40,561.20) rotate(-90)" font-size="14.67" text-anchor="middle">1 880</text>
<text transform="translate(174.40,650.00) rotate(-90)" font-size="14.67" text-anchor="middle">625</text>
<line x1="203.50" y1="116.50" x2="203.50" y2="692.50" stroke="#000" stroke-width="1" />
<line x1="197.00" y1="122.50" x2="211.00" y2="122.50" stroke="#000" stroke-width="1" />
<line x1="199.50" y1="118.50" x2="207.50" y2="126.50" stroke="#000" stroke-width="1.2" />
<line x1="197.00" y1="126.50" x2="211.00" y2="126.50" stroke="#000" stroke-width="1" />
<line x1="199.50" y1="122.50" x2="207.50" y2="130.50" stroke="#000" stroke-width="1.2" />
<line x1="197.00" y1="683.50" x2="211.00" y2="683.50" stroke="#000" stroke-width="1" />
<line x1="199.50" y1="679.50" x2="207.50" y2="687.50" stroke="#000" stroke-width="1.2" />
<line x1="197.00" y1="687.50" x2="211.00" y2="687.50" stroke="#000" stroke-width="1" />
<line x1="199.50" y1="683.50" x2="207.50" y2="691.50" stroke="#000" stroke-width="1.2" />
<text transform="translate(201.30,137.80) rotate(-90)" font-size="14.67" text-anchor="middle">55</text>
<text transform="translate(201.30,412.70) rotate(-90)" font-size="14.67" text-anchor="middle">7 855</text>
<text transform="translate(201.30,698.50) rotate(-90)" font-size="14.67" text-anchor="middle">55</text>
<line x1="279.50" y1="117.60" x2="279.50" y2="692.20" stroke="#000" stroke-width="1" />
<line x1="273.00" y1="122.50" x2="287.00" y2="122.50" stroke="#000" stroke-width="1" />
<line x1="275.50" y1="118.50" x2="283.50" y2="126.50" stroke="#000" stroke-width="1.2" />
<line x1="273.00" y1="137.50" x2="287.00" y2="137.50" stroke="#000" stroke-width="1" />
<line x1="275.50" y1="133.50" x2="283.50" y2="141.50" stroke="#000" stroke-width="1.2" />
<line x1="273.00" y1="424.50" x2="287.00" y2="424.50" stroke="#000" stroke-width="1" />
<line x1="275.50" y1="420.50" x2="283.50" y2="428.50" stroke="#000" stroke-width="1.2" />
<line x1="273.00" y1="430.50" x2="287.00" y2="430.50" stroke="#000" stroke-width="1" />
<line x1="275.50" y1="426.50" x2="283.50" y2="434.50" stroke="#000" stroke-width="1.2" />
<line x1="273.00" y1="672.50" x2="287.00" y2="672.50" stroke="#000" stroke-width="1" />
<line x1="275.50" y1="668.50" x2="283.50" y2="676.50" stroke="#000" stroke-width="1.2" />
<line x1="273.00" y1="687.50" x2="287.00" y2="687.50" stroke="#000" stroke-width="1" />
<line x1="275.50" y1="683.50" x2="283.50" y2="691.50" stroke="#000" stroke-width="1.2" />
<text transform="translate(277.30,154.10) rotate(-90)" font-size="14.67" text-anchor="middle">215</text>
<text transform="translate(277.30,293.20) rotate(-90)" font-size="14.67" text-anchor="middle">4 040</text>
<text transform="translate(277.30,442.50) rotate(-90)" font-size="14.67" text-anchor="middle">90</text>
<text transform="translate(277.30,561.00) rotate(-90)" font-size="14.67" text-anchor="middle">3 405</text>
<text transform="translate(277.30,702.50) rotate(-90)" font-size="14.67" text-anchor="middle">215</text>
<line x1="488.50" y1="116.70" x2="488.50" y2="649.50" stroke="#000" stroke-width="1" />
<line x1="482.00" y1="122.50" x2="496.00" y2="122.50" stroke="#000" stroke-width="1" />
<line x1="484.50" y1="118.50" x2="492.50" y2="126.50" stroke="#000" stroke-width="1.2" />
<line x1="482.00" y1="126.50" x2="496.00" y2="126.50" stroke="#000" stroke-width="1" />
<line x1="484.50" y1="122.50" x2="492.50" y2="130.50" stroke="#000" stroke-width="1.2" />
<line x1="482.00" y1="137.50" x2="496.00" y2="137.50" stroke="#000" stroke-width="1" />
<line x1="484.50" y1="133.50" x2="492.50" y2="141.50" stroke="#000" stroke-width="1.2" />
<line x1="482.00" y1="350.50" x2="496.00" y2="350.50" stroke="#000" stroke-width="1" />
<line x1="484.50" y1="346.50" x2="492.50" y2="354.50" stroke="#000" stroke-width="1.2" />
<line x1="482.00" y1="360.50" x2="496.00" y2="360.50" stroke="#000" stroke-width="1" />
<line x1="484.50" y1="356.50" x2="492.50" y2="364.50" stroke="#000" stroke-width="1.2" />
<line x1="482.00" y1="494.50" x2="496.00" y2="494.50" stroke="#000" stroke-width="1" />
<line x1="484.50" y1="490.50" x2="492.50" y2="498.50" stroke="#000" stroke-width="1.2" />
<line x1="482.00" y1="504.50" x2="496.00" y2="504.50" stroke="#000" stroke-width="1" />
<line x1="484.50" y1="500.50" x2="492.50" y2="508.50" stroke="#000" stroke-width="1.2" />
<line x1="482.00" y1="628.50" x2="496.00" y2="628.50" stroke="#000" stroke-width="1" />
<line x1="484.50" y1="624.50" x2="492.50" y2="632.50" stroke="#000" stroke-width="1.2" />
<line x1="482.00" y1="639.50" x2="496.00" y2="639.50" stroke="#000" stroke-width="1" />
<line x1="484.50" y1="635.50" x2="492.50" y2="643.50" stroke="#000" stroke-width="1.2" />
<line x1="482.00" y1="643.50" x2="496.00" y2="643.50" stroke="#000" stroke-width="1" />
<line x1="484.50" y1="639.50" x2="492.50" y2="647.50" stroke="#000" stroke-width="1.2" />
<text transform="translate(486.25,110.40) rotate(-90)" font-size="14.67" text-anchor="middle">55</text>
<text transform="translate(486.25,153.20) rotate(-90)" font-size="14.67" text-anchor="middle">160</text>
<text transform="translate(486.25,256.40) rotate(-90)" font-size="14.67" text-anchor="middle">3 000</text>
<text transform="translate(486.25,375.50) rotate(-90)" font-size="14.67" text-anchor="middle">140</text>
<text transform="translate(486.25,439.70) rotate(-90)" font-size="14.67" text-anchor="middle">1 890</text>
<text transform="translate(486.25,519.50) rotate(-90)" font-size="14.67" text-anchor="middle">140</text>
<text transform="translate(486.25,565.70) rotate(-90)" font-size="14.67" text-anchor="middle">1 740</text>
<text transform="translate(486.25,611.60) rotate(-90)" font-size="14.67" text-anchor="middle">160</text>
<text transform="translate(477.00,643.90) rotate(-90)" font-size="14.67" text-anchor="middle">55</text>
<line x1="468.50" y1="358.50" x2="468.50" y2="426.50" stroke="#000" stroke-width="1" />
<line x1="468.50" y1="429.00" x2="468.50" y2="497.00" stroke="#000" stroke-width="1" />
<line x1="462.00" y1="364.50" x2="476.00" y2="364.50" stroke="#000" stroke-width="1" />
<line x1="464.50" y1="360.50" x2="472.50" y2="368.50" stroke="#000" stroke-width="1.2" />
<line x1="462.00" y1="420.50" x2="476.00" y2="420.50" stroke="#000" stroke-width="1" />
<line x1="464.50" y1="416.50" x2="472.50" y2="424.50" stroke="#000" stroke-width="1.2" />
<line x1="462.00" y1="434.50" x2="476.00" y2="434.50" stroke="#000" stroke-width="1" />
<line x1="464.50" y1="430.50" x2="472.50" y2="438.50" stroke="#000" stroke-width="1.2" />
<line x1="462.00" y1="491.50" x2="476.00" y2="491.50" stroke="#000" stroke-width="1" />
<line x1="464.50" y1="487.50" x2="472.50" y2="495.50" stroke="#000" stroke-width="1.2" />
<text transform="translate(466.20,392.50) rotate(-90)" font-size="14.67" text-anchor="middle">800</text>
<text transform="translate(466.20,462.50) rotate(-90)" font-size="14.67" text-anchor="middle">800</text>
<line x1="765.50" y1="116.50" x2="765.50" y2="692.50" stroke="#000" stroke-width="1" />
<line x1="759.00" y1="122.50" x2="773.00" y2="122.50" stroke="#000" stroke-width="1" />
<line x1="761.50" y1="118.50" x2="769.50" y2="126.50" stroke="#000" stroke-width="1.2" />
<line x1="759.00" y1="126.50" x2="773.00" y2="126.50" stroke="#000" stroke-width="1" />
<line x1="761.50" y1="122.50" x2="769.50" y2="130.50" stroke="#000" stroke-width="1.2" />
<line x1="759.00" y1="345.50" x2="773.00" y2="345.50" stroke="#000" stroke-width="1" />
<line x1="761.50" y1="341.50" x2="769.50" y2="349.50" stroke="#000" stroke-width="1.2" />
<line x1="759.00" y1="349.50" x2="773.00" y2="349.50" stroke="#000" stroke-width="1" />
<line x1="761.50" y1="345.50" x2="769.50" y2="353.50" stroke="#000" stroke-width="1.2" />
<line x1="759.00" y1="405.50" x2="773.00" y2="405.50" stroke="#000" stroke-width="1" />
<line x1="761.50" y1="401.50" x2="769.50" y2="409.50" stroke="#000" stroke-width="1.2" />
<line x1="759.00" y1="449.50" x2="773.00" y2="449.50" stroke="#000" stroke-width="1" />
<line x1="761.50" y1="445.50" x2="769.50" y2="453.50" stroke="#000" stroke-width="1.2" />
<line x1="759.00" y1="506.50" x2="773.00" y2="506.50" stroke="#000" stroke-width="1" />
<line x1="761.50" y1="502.50" x2="769.50" y2="510.50" stroke="#000" stroke-width="1.2" />
<line x1="759.00" y1="509.50" x2="773.00" y2="509.50" stroke="#000" stroke-width="1" />
<line x1="761.50" y1="505.50" x2="769.50" y2="513.50" stroke="#000" stroke-width="1.2" />
<line x1="759.00" y1="639.50" x2="773.00" y2="639.50" stroke="#000" stroke-width="1" />
<line x1="761.50" y1="635.50" x2="769.50" y2="643.50" stroke="#000" stroke-width="1.2" />
<line x1="759.00" y1="643.50" x2="773.00" y2="643.50" stroke="#000" stroke-width="1" />
<line x1="761.50" y1="639.50" x2="769.50" y2="647.50" stroke="#000" stroke-width="1.2" />
<line x1="759.00" y1="683.50" x2="773.00" y2="683.50" stroke="#000" stroke-width="1" />
<line x1="761.50" y1="679.50" x2="769.50" y2="687.50" stroke="#000" stroke-width="1.2" />
<line x1="759.00" y1="687.50" x2="773.00" y2="687.50" stroke="#000" stroke-width="1" />
<line x1="761.50" y1="683.50" x2="769.50" y2="691.50" stroke="#000" stroke-width="1.2" />
<text transform="translate(763.45,138.10) rotate(-90)" font-size="14.67" text-anchor="middle">55</text>
<text transform="translate(763.45,235.40) rotate(-90)" font-size="14.67" text-anchor="middle">3 085</text>
<text transform="translate(763.45,333.00) rotate(-90)" font-size="14.67" text-anchor="middle">55</text>
<text transform="translate(763.45,377.00) rotate(-90)" font-size="14.67" text-anchor="middle">795</text>
<text transform="translate(763.45,427.60) rotate(-90)" font-size="14.67" text-anchor="middle">620</text>
<text transform="translate(763.45,479.00) rotate(-90)" font-size="14.67" text-anchor="middle">795</text>
<text transform="translate(763.45,521.10) rotate(-90)" font-size="14.67" text-anchor="middle">55</text>
<text transform="translate(763.45,574.30) rotate(-90)" font-size="14.67" text-anchor="middle">1 825</text>
<text transform="translate(763.45,627.60) rotate(-90)" font-size="14.67" text-anchor="middle">55</text>
<text transform="translate(763.45,663.80) rotate(-90)" font-size="14.67" text-anchor="middle">570</text>
<text transform="translate(763.45,698.90) rotate(-90)" font-size="14.67" text-anchor="middle">55</text>
<!-- axis marks -->
<circle cx="115.85" cy="137.50" r="17.85" fill="#fff" stroke="#a6a6a6" stroke-width="1"/>
<text x="115.85" y="146.00" font-size="25.2" text-anchor="middle" fill="#9a9a9a" >Д</text>
<circle cx="115.85" cy="360.50" r="17.85" fill="#fff" stroke="#a6a6a6" stroke-width="1"/>
<text x="115.85" y="369.00" font-size="25.2" text-anchor="middle" fill="#9a9a9a" >Г</text>
<circle cx="115.85" cy="494.50" r="17.85" fill="#fff" stroke="#a6a6a6" stroke-width="1"/>
<text x="115.85" y="503.00" font-size="25.2" text-anchor="middle" fill="#9a9a9a" >В</text>
<circle cx="115.85" cy="628.50" r="17.85" fill="#fff" stroke="#a6a6a6" stroke-width="1"/>
<text x="115.85" y="637.00" font-size="25.2" text-anchor="middle" fill="#9a9a9a" >Б</text>
<circle cx="115.85" cy="672.50" r="17.85" fill="#fff" stroke="#a6a6a6" stroke-width="1"/>
<text x="115.85" y="681.00" font-size="25.2" text-anchor="middle" fill="#9a9a9a" >А</text>
<circle cx="239.50" cy="836.80" r="17.85" fill="#fff" stroke="#a6a6a6" stroke-width="1"/>
<text x="239.50" y="845.30" font-size="25.2" text-anchor="middle" fill="#9a9a9a" >1</text>
<circle cx="451.50" cy="836.80" r="17.85" fill="#fff" stroke="#a6a6a6" stroke-width="1"/>
<text x="451.50" y="845.30" font-size="25.2" text-anchor="middle" fill="#9a9a9a" >2</text>
<circle cx="684.50" cy="836.80" r="17.85" fill="#fff" stroke="#a6a6a6" stroke-width="1"/>
<text x="684.50" y="845.30" font-size="25.2" text-anchor="middle" fill="#9a9a9a" >3</text>
<circle cx="729.50" cy="836.80" r="17.85" fill="#fff" stroke="#a6a6a6" stroke-width="1"/>
<text x="729.50" y="845.30" font-size="25.2" text-anchor="middle" fill="#9a9a9a" >4</text>
<!-- room labels -->
<circle cx="342.10" cy="242.00" r="13.8" fill="none" stroke="#000" stroke-width="0.9"/>
<text x="342.10" y="248.80" font-size="19.5" text-anchor="middle" >3</text>
<circle cx="579.10" cy="242.10" r="13.8" fill="none" stroke="#000" stroke-width="0.9"/>
<text x="579.10" y="248.90" font-size="19.5" text-anchor="middle" >2</text>
<circle cx="533.30" cy="409.70" r="13.8" fill="none" stroke="#000" stroke-width="0.9"/>
<text x="533.30" y="416.50" font-size="19.5" text-anchor="middle" >1</text>
<circle cx="342.10" cy="545.20" r="13.8" fill="none" stroke="#000" stroke-width="0.9"/>
<text x="342.10" y="552.00" font-size="19.5" text-anchor="middle" >4</text>
<circle cx="580.30" cy="544.90" r="13.8" fill="none" stroke="#000" stroke-width="0.9"/>
<text x="580.30" y="551.70" font-size="19.5" text-anchor="middle" >5</text>
<g transform="translate(368.50,408.90) scale(0.80,1)"><text font-size="15" font-weight="bold">12,04 м</text></g>
<g transform="translate(410.90,402.60) scale(0.82,1)"><text font-size="9.4" font-weight="bold">2</text></g>
<line x1="368.20" y1="410.50" x2="411.90" y2="410.50" stroke="#000" stroke-width="1" />
<line x1="410.40" y1="404.50" x2="416.00" y2="404.50" stroke="#000" stroke-width="1" />
<g transform="translate(618.17,336.90) scale(0.80,1)"><text font-size="15" font-weight="bold">9,45 м</text></g>
<g transform="translate(654.97,330.60) scale(0.82,1)"><text font-size="9.4" font-weight="bold">2</text></g>
<line x1="617.67" y1="338.50" x2="655.97" y2="338.50" stroke="#000" stroke-width="1" />
<line x1="654.47" y1="332.50" x2="660.07" y2="332.50" stroke="#000" stroke-width="1" />
<g transform="translate(522.00,446.90) scale(0.80,1)"><text font-size="15" font-weight="bold">3,08 м</text></g>
<g transform="translate(559.00,440.60) scale(0.82,1)"><text font-size="9.4" font-weight="bold">2</text></g>
<line x1="521.80" y1="448.50" x2="560.00" y2="448.50" stroke="#000" stroke-width="1" />
<g transform="translate(289.60,655.70) scale(0.80,1)"><text font-size="15" font-weight="bold">10,15 м</text></g>
<g transform="translate(332.00,650.60) scale(0.82,1)"><text font-size="9.4" font-weight="bold">2</text></g>
<line x1="289.30" y1="657.50" x2="333.00" y2="657.50" stroke="#000" stroke-width="1" />
<line x1="331.50" y1="652.50" x2="337.10" y2="652.50" stroke="#000" stroke-width="1" />
<g transform="translate(632.20,617.00) scale(0.80,1)"><text font-size="15" font-weight="bold">5,48 м</text></g>
<g transform="translate(667.90,610.60) scale(0.82,1)"><text font-size="9.4" font-weight="bold">2</text></g>
<line x1="632.00" y1="618.50" x2="668.90" y2="618.50" stroke="#000" stroke-width="1" />
<line x1="667.40" y1="612.50" x2="673.00" y2="612.50" stroke="#000" stroke-width="1" />
<!-- table -->
<text x="866.80" y="170.70" font-size="14.67" font-weight="bold" >Експлікація приміщень</text>
<line x1="866.10" y1="172.50" x2="1035.30" y2="172.50" stroke="#000" stroke-width="1.3" />
<rect x="792.5" y="196.5" width="330.0" height="167.00" fill="none" stroke="#000" stroke-width="1"/>
<line x1="792.50" y1="239.50" x2="1122.50" y2="239.50" stroke="#000" stroke-width="1" />
<line x1="792.50" y1="256.50" x2="1122.50" y2="256.50" stroke="#000" stroke-width="1" />
<line x1="792.50" y1="274.50" x2="1122.50" y2="274.50" stroke="#000" stroke-width="1" />
<line x1="792.50" y1="292.50" x2="1122.50" y2="292.50" stroke="#000" stroke-width="1" />
<line x1="792.50" y1="310.50" x2="1122.50" y2="310.50" stroke="#000" stroke-width="1" />
<line x1="792.50" y1="327.50" x2="1122.50" y2="327.50" stroke="#000" stroke-width="1" />
<line x1="792.50" y1="345.50" x2="1122.50" y2="345.50" stroke="#000" stroke-width="1" />
<line x1="821.50" y1="196.50" x2="821.50" y2="363.50" stroke="#000" stroke-width="1" />
<line x1="1016.50" y1="196.50" x2="1016.50" y2="363.50" stroke="#000" stroke-width="1" />
<text x="807.20" y="214.70" font-size="14.67" text-anchor="middle" >№</text>
<text x="807.20" y="231.70" font-size="14.67" text-anchor="middle" >пп</text>
<text x="924.00" y="220.80" font-size="14.67" text-anchor="middle" >Найменування</text>
<text x="1064.50" y="214.00" font-size="14.67" text-anchor="middle" >Площа</text>
<text x="1057.00" y="230.90" font-size="14.67" >м</text>
<text x="1066.70" y="225.30" font-size="9.8" >2</text>
<text x="808.90" y="253.20" font-size="14.67" text-anchor="middle" >1</text>
<text x="834.40" y="252.70" font-size="14.67" >Хол</text>
<text x="1064.50" y="253.30" font-size="14.67" text-anchor="middle" >3,08</text>
<text x="808.90" y="271.20" font-size="14.67" text-anchor="middle" >2</text>
<text x="834.40" y="270.70" font-size="14.67" >Спальня</text>
<text x="1064.50" y="271.30" font-size="14.67" text-anchor="middle" >9,45</text>
<text x="808.90" y="288.40" font-size="14.67" text-anchor="middle" >3</text>
<text x="834.40" y="287.90" font-size="14.67" >Спальня</text>
<text x="1064.50" y="288.50" font-size="14.67" text-anchor="middle" >12,04</text>
<text x="808.90" y="306.30" font-size="14.67" text-anchor="middle" >4</text>
<text x="834.40" y="305.80" font-size="14.67" >Спальня</text>
<text x="1064.50" y="306.40" font-size="14.67" text-anchor="middle" >10,15</text>
<text x="808.90" y="324.00" font-size="14.67" text-anchor="middle" >5</text>
<text x="835.60" y="323.50" font-size="14.67" >Санвузол</text>
<text x="1064.50" y="324.10" font-size="14.67" text-anchor="middle" >5,48</text>
<text x="836.70" y="359.60" font-size="14.67" font-weight="bold" >Площа поверху</text>
<text x="1064.50" y="359.00" font-size="14.67" text-anchor="middle" font-weight="bold" >40,2</text>
<!-- section -->
<path d="M97 443.5H137.9 M143 443.5H177 M181 443.5H212.8 M218 443.5H250.6 M256.1 443.5H288.1 M293.3 443.5H325.8 M330.8 443.5H363.1 M368.4 443.5H400.7 M405.9 443.5H438 M443.9 443.5H513.5 M518.9 443.5H588.8 M593.9 443.5H625.9 M631.3 443.5H663.4 M668.7 443.5H700.8 M706 443.5H739.4 M744.8 443.5H779" stroke="#ff0000" stroke-width="1" fill="none"/>
<polygon points="96.8,444 106.1,424.8 115.3,443.9" fill="#ff0000"/>
<polygon points="778,444 787.4,424.9 797.1,444" fill="#ff0000"/>
<text x="53.50" y="438.80" font-size="25" fill="#ff0000" >Р-1</text>
<text x="800.70" y="438.80" font-size="25" fill="#ff0000" >Р-1</text>
</svg></body></html>
